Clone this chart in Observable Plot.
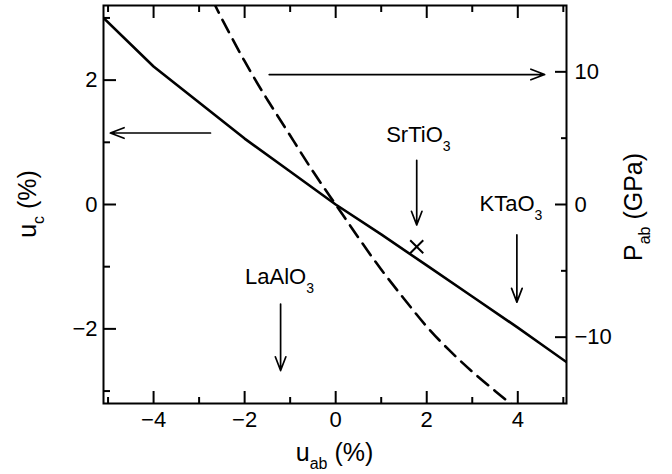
<!DOCTYPE html>
<html><head><meta charset="utf-8">
<script src="https://cdn.jsdelivr.net/npm/d3@7"></script>
<script src="https://cdn.jsdelivr.net/npm/@observablehq/plot@0.6"></script>
<style>
html,body{margin:0;padding:0;background:#fff;overflow:hidden;}
svg{display:block;}
svg text{font-family:"Liberation Sans", Arial, Helvetica, sans-serif;}
</style></head><body><div id="chart"></div>
<script>
// solid curve: u_c (%) vs u_ab (%), left axis
const uAb = [-5.1, -4, -2, -1, 0, 1, 2, 3, 4, 4.5, 5.1];
const uC = [3.0, 2.22, 1.06, 0.53, 0, -0.48, -0.98, -1.48, -1.98, -2.24, -2.55];
// dashed curve: P_ab (GPa) vs u_ab (%), right axis
const uAbP = [-2.7, -2.5, -2, -1.5, -1, -0.5, 0, 0.5, 1, 1.5, 2, 2.5, 3, 3.5, 4];
const pAb = [15.4, 14.0, 10.8, 7.9, 5.2, 2.5, 0, -2.5, -4.9, -7.1, -9.2, -11.0, -12.6, -14.05, -15.45];
// SrTiO3 marker
const crossU = [1.78];
const crossC = [-0.68];
// ticks
const xMajor = [-4, -2, 0, 2, 4];
const xMinor = [-5, -3, -1, 1, 3, 5];
const yMajor = [-2, 0, 2];
const yMinor = [-3, -1, 1, 3];
const pMajor = [-10, 0, 10];
const pMinor = [-5, 5];
const xDomain = [-5.1, 5.07];
const yDomain = [-3.2, 3.2];
const pDomain = [-15, 15];
// arrows (in u_ab, u_c units)
const arrowX1 = [-2.75, -1.46, 1.78, 3.98, -1.21];
const arrowY1 = [1.15, 2.09, 0.71, -0.49, -1.6];
const arrowX2 = [-4.95, 4.59, 1.78, 3.98, -1.21];
const arrowY2 = [1.15, 2.09, -0.33, -1.57, -2.67];
// material labels
const labelNames = ["SrTiO", "KTaO", "LaAlO"];
const labelSubs = ["3", "3", "3"];
const labelU = [1.12, 3.17, -1.98];
const labelC = [1.0, -0.12, -1.28];

const toY = p => yDomain[0] + (p - pDomain[0]) * (yDomain[1] - yDomain[0]) / (pDomain[1] - pDomain[0]);
const toP = y => pDomain[0] + (y - yDomain[0]) * (pDomain[1] - pDomain[0]) / (yDomain[1] - yDomain[0]);
const fmt = v => { const r = Math.round(v); return r < 0 ? "\u2212" + Math.abs(r) : String(r); };

const solid = uAb.map((u, i) => ({u, v: uC[i]}));
const dashed = uAbP.map((u, i) => ({u, p: pAb[i]}));
const cross = crossU.map((u, i) => ({u, v: crossC[i]}));
const arrows = arrowX1.map((x1, i) => ({x1, y1: arrowY1[i], x2: arrowX2[i], y2: arrowY2[i]}));

const FS = 22;
const tk = {stroke: "black", strokeWidth: 2, fill: "none", label: null};
const chart = Plot.plot({
  width: 672, height: 474,
  marginLeft: 103, marginRight: 106, marginTop: 5, marginBottom: 71,
  x: {domain: xDomain},
  y: {domain: yDomain},
  style: {fontFamily: "Liberation Sans, Arial, sans-serif", fontSize: FS + "px", color: "black", background: "white"},
  marks: [
    Plot.axisX(xMajor, {anchor: "bottom", tickSize: 0, tickPadding: 8, tickFormat: fmt, label: null, fill: "black", fontSize: FS}),
    Plot.axisX(xMajor, {anchor: "bottom", tickSize: -12, ...tk}),
    Plot.axisX(xMinor, {anchor: "bottom", tickSize: -6, ...tk}),
    Plot.axisX(xMajor, {anchor: "top", tickSize: -12, ...tk}),
    Plot.axisX(xMinor, {anchor: "top", tickSize: -6, ...tk}),
    Plot.axisY(yMajor, {anchor: "left", tickSize: 0, tickPadding: 6, tickFormat: fmt, label: null, fill: "black", fontSize: FS}),
    Plot.axisY(yMajor, {anchor: "left", tickSize: -13, ...tk}),
    Plot.axisY(yMinor, {anchor: "left", tickSize: -7, ...tk}),
    Plot.axisY(pMajor.map(toY), {anchor: "right", tickSize: 0, tickPadding: 8, tickFormat: d => fmt(toP(d)), label: null, fill: "black", fontSize: FS}),
    Plot.axisY(pMajor.map(toY), {anchor: "right", tickSize: -12, ...tk}),
    Plot.axisY(pMinor.map(toY), {anchor: "right", tickSize: -6, ...tk}),
    Plot.line(solid, {x: "u", y: "v", stroke: "black", strokeWidth: 2.6, clip: true}),
    Plot.line(dashed, {x: "u", y: d => toY(d.p), stroke: "black", strokeWidth: 2.6, strokeDasharray: "14,8", curve: "natural", clip: true}),
    Plot.dot(cross, {x: "u", y: "v", symbol: "times", r: 6, stroke: "black", strokeWidth: 2}),
    Plot.arrow(arrows, {x1: "x1", y1: "y1", x2: "x2", y2: "y2", stroke: "black", strokeWidth: 1.7, headLength: 13, headAngle: 42}),
    Plot.frame({stroke: "black", strokeWidth: 2})
  ]
});
document.getElementById("chart").appendChild(chart);

const sx = chart.scale("x"), sy = chart.scale("y");
const svg = d3.select(chart);
function rich(x, y, parts, anchor, rotate) {
  const t = svg.append("text")
    .attr("transform", `translate(${x},${y}) rotate(${rotate || 0})`)
    .attr("text-anchor", anchor || "start")
    .attr("fill", "black");
  parts.forEach(p => t.append("tspan").attr("font-size", p.s).attr("dy", p.dy || 0).text(p.t));
  return t;
}
labelNames.forEach((n, i) => {
  rich(sx.apply(labelU[i]), sy.apply(labelC[i]), [
    {t: n, s: FS}, {t: labelSubs[i], s: 14, dy: 9}
  ]);
});
const xMid = (sx.apply(xDomain[0]) + sx.apply(xDomain[1])) / 2;
const yMid = sy.apply(0);
rich(xMid, 461, [{t: "u", s: 25}, {t: "ab", s: 16, dy: 8}, {t: " (%)", s: 25, dy: -8}], "middle");
rich(36, yMid, [{t: "u", s: 25}, {t: "c", s: 16, dy: 8}, {t: " (%)", s: 25, dy: -8}], "middle", -90);
rich(642, yMid + 3, [{t: "P", s: 25}, {t: "ab", s: 16, dy: 8}, {t: " (GPa)", s: 25, dy: -8}], "middle", -90);
</script></body></html>
